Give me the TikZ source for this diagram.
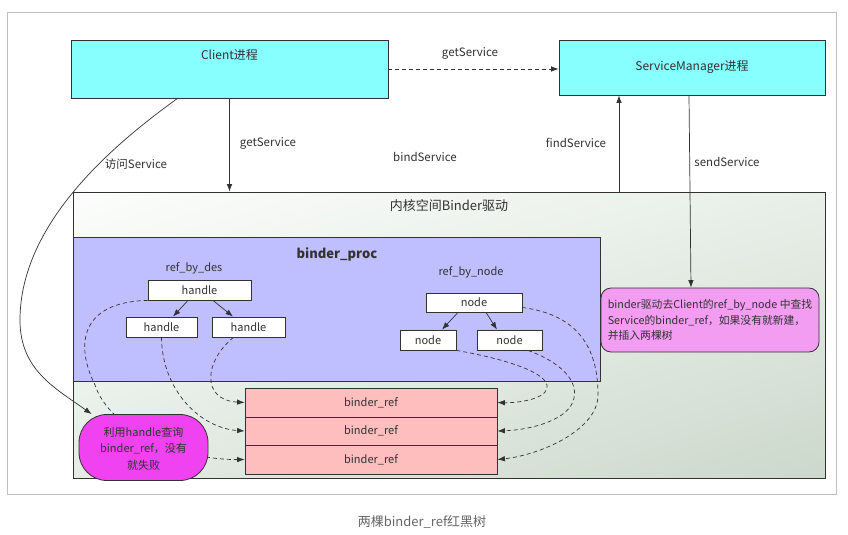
\documentclass[tikz,border=0pt]{standalone}
\usepackage{fontspec}
\setmainfont{Noto Sans CJK SC}
\usetikzlibrary{arrows.meta,calc,shadings}
\definecolor{cyanbox}{RGB}{135,255,255}
\definecolor{lav}{RGB}{191,191,255}
\definecolor{refpink}{RGB}{255,190,190}
\definecolor{notepink}{RGB}{242,156,242}
\definecolor{magbox}{RGB}{240,66,240}
\definecolor{kgA}{RGB}{252,253,252}
\definecolor{kgB}{RGB}{232,239,232}
\definecolor{kgC}{RGB}{228,236,228}
\definecolor{kgD}{RGB}{204,216,204}
\definecolor{ink}{RGB}{50,50,50}
\tikzset{
  box/.style={draw=ink, line width=0.8pt, inner sep=0pt, text=ink},
  arr/.style={-{Latex[length=7.5pt,width=5.5pt]}, line width=0.7pt, draw=ink},
  darr/.style={arr, dash pattern=on 4pt off 3pt},
  lbl/.style={font=\fontsize{11.5}{14}\selectfont, text=ink, inner sep=0pt},
  small/.style={font=\fontsize{11}{13}\selectfont},
}
\begin{document}
\begin{tikzpicture}[x=1pt,y=-1pt]
\useasboundingbox (0,0) rectangle (848,535);
\fill[white] (0,0) rectangle (848,535);
% outer frame
\draw[black!25, line width=0.9pt] (7,12) rectangle (836,494);

% kernel box
\node[box, minimum width=752pt, minimum height=286pt,
  upper left=kgA, upper right=kgB, lower left=kgC, lower right=kgD] (kernel) at (449,335) {};
\node[lbl, font=\fontsize{13}{15}\selectfont] (ktitle) at (449,206) {内核空间Binder驱动};

% binder_proc
\node[box, fill=lav, minimum width=527pt, minimum height=144pt] (proc) at (336.5,309) {};
\node[lbl, font=\bfseries\fontsize{13}{15}\selectfont] (proctitle) at (337,254) {binder\_proc};
\node[lbl, small] (rbd) at (194,268) {ref\_by\_des};
\node[lbl, small] (rbn) at (471,272) {ref\_by\_node};

% handle tree
\node[box, fill=white, small, minimum width=103pt, minimum height=20pt] (ht) at (199.5,290) {handle};
\node[box, fill=white, small, minimum width=71pt, minimum height=20pt] (hl) at (161.5,327) {handle};
\node[box, fill=white, small, minimum width=73pt, minimum height=20pt] (hr) at (248.5,327) {handle};
% node tree
\node[box, fill=white, small, minimum width=96pt, minimum height=19pt] (nt) at (474,302.5) {node};
\node[box, fill=white, small, minimum width=56pt, minimum height=20pt] (nl) at (428,340) {node};
\node[box, fill=white, small, minimum width=65pt, minimum height=20pt] (nr) at (509.5,340) {node};

\draw[arr] ([xshift=-11.5pt]ht.south) -- ([xshift=11.5pt]hl.north);
\draw[arr] ([xshift=13.5pt]ht.south) -- ([xshift=-15.5pt]hr.north);
\draw[arr] ([xshift=-16pt]nt.south) -- ([xshift=14pt]nl.north);
\draw[arr] ([xshift=12pt]nt.south) -- ([xshift=-12.5pt]nr.north);

% binder_ref rows
\node[box, fill=refpink, small, minimum width=252pt, minimum height=29pt] (br1) at (371,402.5) {binder\_ref};
\node[box, fill=refpink, small, minimum width=252pt, minimum height=28pt] (br2) at (371,431) {binder\_ref};
\node[box, fill=refpink, small, minimum width=252pt, minimum height=29pt] (br3) at (371,459.5) {binder\_ref};

% dashed links, left side
\draw[darr] (ht.south west) .. controls (80,302) and (75,345) .. (95,385)
   .. controls (110,430) and (180,460) .. (br3.west);
\draw[darr] (hl.south) .. controls (162,390) and (200,428) .. (br2.west);
\draw[darr] ([xshift=-15pt]hr.south) .. controls (205,360) and (200,400) .. (br1.west);
% dashed links, right side
\draw[darr] ($(nt.east)+(0,5)$) .. controls (580,315) and (598,350) .. (598,395)
   .. controls (598,430) and (540,455) .. (br3.east);
\draw[darr] ($(nr.south)+(18.5,0)$) .. controls (560,362) and (578,380) .. (574,398)
   .. controls (570,420) and (530,430) .. (br2.east);
\draw[darr] (nl.south east) .. controls (500,358) and (550,372) .. (547,388)
   .. controls (545,400) and (515,403) .. (br1.east);

% magenta note
\node[box, fill=magbox, rounded corners=28pt, minimum width=129pt, minimum height=66pt] (mag) at (143.5,447.5) {};
\node[lbl, small] (magt1) at (143.5,432) {利用handle查询};
\node[lbl, small] (magt2) at (143.5,448.5) {binder\_ref，没有};
\node[lbl, small] (magt3) at (143.5,465) {就失败};

% pink note
\node[box, fill=notepink, rounded corners=10pt, minimum width=218pt, minimum height=64pt,
  align=left, font=\fontsize{10.8}{15.5}\selectfont] (note) at (710,320)
  {binder驱动去Client的ref\_by\_node 中查找\\Service的binder\_ref，如果没有就新建，\\并插入两棵树};

% processes
\node[box, fill=cyanbox, minimum width=317pt, minimum height=58pt] (client) at (229.5,69) {};
\node[lbl, font=\fontsize{12}{14}\selectfont] (clientlbl) at (229.5,55) {Client进程};
\node[box, fill=cyanbox, minimum width=266pt, minimum height=55pt,
  font=\fontsize{12}{14}\selectfont] (sm) at (692,67.5) {ServiceManager进程};

% connectors between processes and kernel
\draw[darr] (client.east) -- (client.east -| sm.west);
\node[lbl] (l1) at (470,53) {getService};

\draw[arr] (client.south) -- (client.south |- kernel.north);
\node[lbl] (l2) at (268,143) {getService};

\node[lbl] (l3) at (425,157) {bindService};

\coordinate (fsb) at (619,192);
\draw[arr] (fsb) -- (fsb |- sm.south);
\node[lbl] (l4) at (576,143) {findService};

\draw[arr] ([xshift=-3pt]sm.south) -- ([xshift=-19pt]note.north);
\node[lbl] (l5) at (727,162) {sendService};

\draw[arr] ([xshift=-52pt]client.south) .. controls (120,140) and (20,220) .. (20,320)
   .. controls (20,370) and (55,388) .. ($(mag.north west)+(13,0)$);
\node[lbl] (l6) at (136,164) {访问Service};

% caption
\node[lbl, text=black!60, font=\fontsize{13}{15}\selectfont] (cap) at (422,522) {两棵binder\_ref红黑树};
\end{tikzpicture}
\end{document}
